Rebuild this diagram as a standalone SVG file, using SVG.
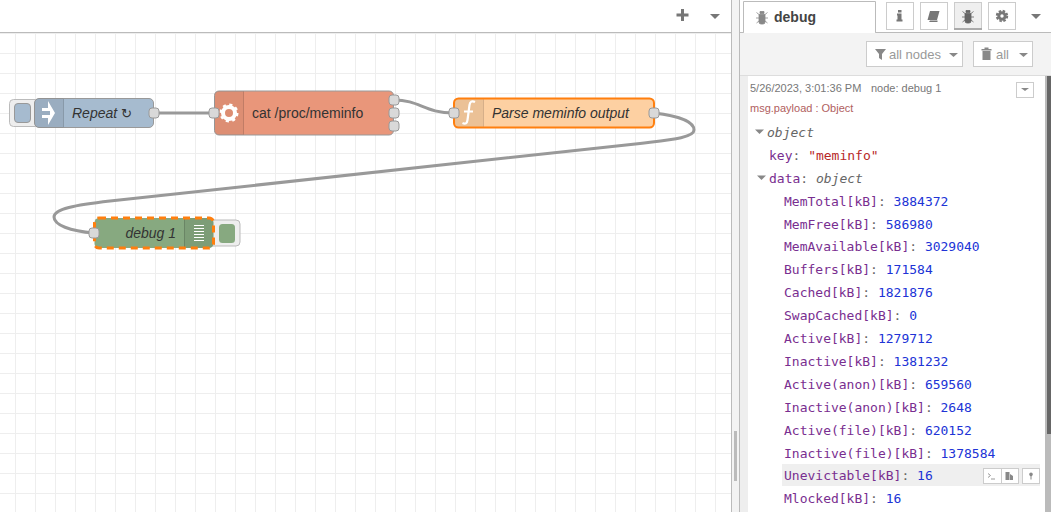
<svg xmlns="http://www.w3.org/2000/svg" width="1051" height="512" viewBox="0 0 1051 512">
<defs>
<pattern id="grid" x="15" y="33" width="20" height="20" patternUnits="userSpaceOnUse"><path d="M0.5 0V20M0 0.5H20" fill="none" stroke="#eeeeee" stroke-width="1"/></pattern>
</defs>
<style>
text{font-family:"Liberation Sans",Arial,sans-serif}
.nl{font-size:14px;fill:#333}
.it{font-style:italic}
.port{fill:#d9d9d9;stroke:#999;stroke-width:1}
.wire{fill:none;stroke:#999;stroke-width:3}
.ic{fill:#fff;stroke:none}
.btn{fill:#fff;stroke:#ccc;stroke-width:1}
.caret{fill:#888}
.glyph{fill:#777}
.m{font-family:"DejaVu Sans Mono","Liberation Mono",monospace;font-size:13px}
.k{fill:#792e90}
.c{fill:#666}
.n{fill:#2033d6}
.s{fill:#b72828}
.o{fill:#666;font-style:italic}
</style>
<rect width="1051" height="512" fill="#fff"/>
<g id="workspace">
<rect x="0" y="33" width="731" height="479" fill="url(#grid)"/>
<rect x="0" y="32" width="731" height="1" fill="#bbb"/>
<rect x="731" y="0" width="1" height="512" fill="#bbb"/>
<path class="glyph" d="M681 9h3v4.500h4.500v3h-4.500v4.500h-3v-4.500h-4.500v-3h4.500z"/>
<path class="glyph" d="M710 14h10l-5 5z"/>
</g>
<g id="connectors">
<path class="wire" d="M154 113H214"/>
<path class="wire" d="M394 100C420 100 424 113 454 113"/>
<path class="wire" d="M654 113C680 116 694 122 694 130C694 138 668 140 640 143.500L110 201C75 205 54 209 54 217C54 225 70 231 94 233"/>
</g>
<g id="node-repeat">
<rect x="9.500" y="99.500" width="30" height="27" rx="4" fill="#eee" stroke="#bbb"/>
<rect x="14.500" y="103.500" width="16" height="19" rx="3.500" fill="#a6bbcf" stroke="#999"/>
<rect x="34.500" y="98.500" width="119" height="29" rx="4.500" fill="#a6bbcf" stroke="#999"/>
<path d="M39 98.500h24.500v29H39a4.500 4.500 0 0 1-4.500-4.500V103a4.500 4.500 0 0 1 4.500-4.500z" fill="#000" fill-opacity=".07"/>
<path d="M63.500 99v28" stroke="#000" stroke-opacity=".15"/>
<path class="ic" d="M48 101L55 113L48 125V118H42V115H50V111H42V108H48z"/>
<text class="nl it" x="72" y="118">Repeat <tspan font-family="'DejaVu Sans',sans-serif" font-style="normal" font-size="13">↻</tspan></text>
<rect class="port" x="149" y="108" width="10" height="10" rx="3"/>
</g>
<g id="node-exec">
<rect x="214.500" y="91" width="179" height="44" rx="4.500" fill="#e9967a" stroke="#999"/>
<path d="M219 91h24.500v44H219a4.500 4.500 0 0 1-4.500-4.500V95.500a4.500 4.500 0 0 1 4.500-4.500z" fill="#000" fill-opacity=".05"/>
<path d="M243.500 91.500v43" stroke="#000" stroke-opacity=".15"/>
<circle cx="229" cy="113" r="6" fill="none" stroke="#fff" stroke-width="4"/>
<circle cx="229" cy="113" r="8" fill="none" stroke="#fff" stroke-width="3" stroke-dasharray="3 3.280"/>
<text class="nl" x="252" y="118">cat /proc/meminfo</text>
<rect class="port" x="209" y="108" width="10" height="10" rx="3"/>
<rect class="port" x="389" y="95" width="10" height="10" rx="3"/>
<rect class="port" x="389" y="108" width="10" height="10" rx="3"/>
<rect class="port" x="389" y="121" width="10" height="10" rx="3"/>
</g>
<g id="node-function">
<rect x="454" y="98.500" width="200" height="29" rx="4.500" fill="#fdd0a2" stroke="#ff7f0e" stroke-width="2"/>
<path d="M458.500 99.500h25v27h-25a3.500 3.500 0 0 1-3.500-3.500V103a3.500 3.500 0 0 1 3.500-3.500z" fill="#000" fill-opacity=".07"/>
<path d="M483.500 99.500v27" stroke="#000" stroke-opacity=".12"/>
<path d="M475 102c-3-1.500-5-.5-5.500 3l-2 15c-.5 3.500-2 4.500-5 3M464 111.500h9" fill="none" stroke="#fff" stroke-width="2.200"/>
<text class="nl it" x="492" y="118">Parse meminfo output</text>
<rect class="port" x="449" y="108" width="10" height="10" rx="3"/>
<rect class="port" x="649" y="108" width="10" height="10" rx="3"/>
</g>
<g id="node-debug">
<rect x="208" y="220" width="32" height="26" rx="4" fill="#eee" stroke="#bbb"/>
<rect x="219" y="224" width="16" height="19" rx="3.500" fill="#87a980"/>
<rect x="94.500" y="218" width="119" height="30" rx="4.500" fill="#87a980"/>
<path d="M184 218h25a4.500 4.500 0 0 1 4.500 4.500v21a4.500 4.500 0 0 1-4.500 4.500h-25z" fill="#000" fill-opacity=".07"/>
<path d="M184.500 218v30" stroke="#000" stroke-opacity=".15"/>
<path d="M194 225.500h10M194 228.500h10M194 231.500h10M194 234.500h10M194 237.500h10M194 240.500h10" stroke="#fff" stroke-width="1"/>
<rect x="94.500" y="218" width="119" height="30" rx="4.500" fill="none" stroke="#ff7f0e" stroke-width="3" stroke-dasharray="7 5"/>
<text class="nl it" x="176" y="238" text-anchor="end">debug 1</text>
<rect class="port" x="89" y="228" width="10" height="10" rx="3"/>
</g>
<g id="sidebar">
<rect x="732" y="0" width="8" height="512" fill="#f3f3f3"/>
<rect x="739" y="0" width="1" height="512" fill="#bbb"/>
<rect x="734" y="431" width="3" height="50" fill="#bbb"/>
<rect x="740" y="33" width="311" height="43" fill="#f3f3f3"/>
<rect x="740" y="32" width="311" height="1" fill="#bbb"/>
<path d="M743.500 32.500V1.500H875.500V32.500" fill="#fff" stroke="#bbb"/>
<rect x="744" y="32" width="131" height="1" fill="#fff"/>
<g transform="translate(762,17)"><path d="M-3-2.500h6v7.500a2 2 0 0 1-2 2h-2a2 2 0 0 1-2-2zM-2-5.500h4v2h-4zM-5.500-4.500l2.500 2M5.500-4.500l-2.500 2M-6 1h3M6 1h-3M-5.500 6l2.500-2M5.500 6l-2.500-2" fill="#888" stroke="#888" stroke-width=".8"/></g>
<text x="774" y="22" font-size="14" font-weight="bold" fill="#444">debug</text>
<rect class="btn" x="886.500" y="2.500" width="27" height="27"/>
<rect class="btn" x="920.500" y="2.500" width="27" height="27"/>
<rect x="954.500" y="2.500" width="27" height="27" fill="#efefef" stroke="#ccc"/>
<rect x="954" y="28" width="28" height="2" fill="#aaa"/>
<rect class="btn" x="988.500" y="2.500" width="27" height="27"/>
<path class="glyph" d="M898 10h3.500v2.500H898zM897 13.500h4.500v6h1v2h-6v-2h1v-4h-.5z"/>
<path class="glyph" d="M930 11h9.500l-2.500 9h-9.500zM930 20.500h7.500v1.500H929z"/>
<g transform="translate(968,16)"><path d="M-3-2.500h6v7.500a2 2 0 0 1-2 2h-2a2 2 0 0 1-2-2zM-2-5.500h4v2h-4zM-5.500-4.500l2.500 2M5.500-4.500l-2.500 2M-6 1h3M6 1h-3M-5.500 6l2.500-2M5.500 6l-2.500-2" fill="#666" stroke="#666" stroke-width=".8"/></g>
<circle cx="1002" cy="16" r="3.200" fill="none" stroke="#777" stroke-width="3"/>
<circle cx="1002" cy="16" r="5.200" fill="none" stroke="#777" stroke-width="2" stroke-dasharray="2.500 1.600"/>
<path class="glyph" d="M1031 14h10l-5 5z"/>
<rect class="btn" x="866.500" y="41.500" width="96" height="25"/>
<rect class="btn" x="973.500" y="41.500" width="59" height="25"/>
<path d="M875 49h11l-4 5v6l-3-2v-4z" fill="#888"/>
<text x="889" y="59" font-size="13" fill="#999">all nodes</text>
<path class="caret" d="M949 53h9l-4.500 4z"/>
<path d="M982.500 51h8v9h-8zM981.500 49h10v1.500h-10zM984.500 47.500h4v1.500h-4z" fill="#888"/>
<text x="996" y="59" font-size="13" fill="#999">all</text>
<path class="caret" d="M1019 53h9l-4.500 4z"/>
<rect x="740" y="76" width="8" height="436" fill="#eee"/>
<rect x="740" y="75" width="311" height="1" fill="#ddd"/>
<rect x="1045" y="76" width="6" height="436" fill="#bbb"/>
<rect x="1047" y="76" width="4" height="358" fill="#666"/>
<text x="750" y="92" font-size="11" fill="#777">5/26/2023, 3:01:36 PM</text>
<text x="871" y="92" font-size="11" fill="#777">node: debug 1</text>
<rect class="btn" x="1016.500" y="82.500" width="17" height="15"/>
<path class="caret" d="M1021 88h8l-4 3z"/>
<text x="750" y="112" font-size="11" fill="#b06060">msg.payload : Object</text>
<path class="caret" d="M755 129.500h9l-4.500 4.500z"/>
<text class="m o" x="767" y="137">object</text>
<text class="m" x="769" y="160"><tspan class="k">key</tspan><tspan class="c">: </tspan><tspan class="s">"meminfo"</tspan></text>
<path class="caret" d="M757 175.500h9l-4.500 4.500z"/>
<text class="m" x="769" y="183"><tspan class="k">data</tspan><tspan class="c">: </tspan><tspan class="o">object</tspan></text>
<rect x="782" y="464" width="258" height="22" fill="#efefef"/>
<g class="m">
<text class="m" x="784" y="206"><tspan class="k">MemTotal[kB]</tspan><tspan class="c">: </tspan><tspan class="n">3884372</tspan></text>
<text class="m" x="784" y="229"><tspan class="k">MemFree[kB]</tspan><tspan class="c">: </tspan><tspan class="n">586980</tspan></text>
<text class="m" x="784" y="251"><tspan class="k">MemAvailable[kB]</tspan><tspan class="c">: </tspan><tspan class="n">3029040</tspan></text>
<text class="m" x="784" y="274"><tspan class="k">Buffers[kB]</tspan><tspan class="c">: </tspan><tspan class="n">171584</tspan></text>
<text class="m" x="784" y="297"><tspan class="k">Cached[kB]</tspan><tspan class="c">: </tspan><tspan class="n">1821876</tspan></text>
<text class="m" x="784" y="320"><tspan class="k">SwapCached[kB]</tspan><tspan class="c">: </tspan><tspan class="n">0</tspan></text>
<text class="m" x="784" y="343"><tspan class="k">Active[kB]</tspan><tspan class="c">: </tspan><tspan class="n">1279712</tspan></text>
<text class="m" x="784" y="366"><tspan class="k">Inactive[kB]</tspan><tspan class="c">: </tspan><tspan class="n">1381232</tspan></text>
<text class="m" x="784" y="389"><tspan class="k">Active(anon)[kB]</tspan><tspan class="c">: </tspan><tspan class="n">659560</tspan></text>
<text class="m" x="784" y="412"><tspan class="k">Inactive(anon)[kB]</tspan><tspan class="c">: </tspan><tspan class="n">2648</tspan></text>
<text class="m" x="784" y="435"><tspan class="k">Active(file)[kB]</tspan><tspan class="c">: </tspan><tspan class="n">620152</tspan></text>
<text class="m" x="784" y="458"><tspan class="k">Inactive(file)[kB]</tspan><tspan class="c">: </tspan><tspan class="n">1378584</tspan></text>
<text class="m" x="784" y="480"><tspan class="k">Unevictable[kB]</tspan><tspan class="c">: </tspan><tspan class="n">16</tspan></text>
<text class="m" x="784" y="503"><tspan class="k">Mlocked[kB]</tspan><tspan class="c">: </tspan><tspan class="n">16</tspan></text>
</g>
<rect class="btn" x="983.500" y="468.500" width="18" height="15"/>
<rect class="btn" x="1001.500" y="468.500" width="17" height="15"/>
<rect class="btn" x="1022.500" y="468.500" width="17" height="15"/>
<path d="M988 473.500l2.500 2-2.500 2M991 479h4" fill="none" stroke="#999"/>
<path d="M1005.500 472h4v8h-4zM1010 474l3 2v4h-3z" fill="#888"/>
<path d="M1031 472.500a1.800 1.800 0 0 1 1.800 1.800c0 1-.8 1.700-1.300 2v3.200h-1v-3.200c-.5-.3-1.300-1-1.300-2a1.800 1.800 0 0 1 1.800-1.800z" fill="#888"/>
</g>
</svg>
